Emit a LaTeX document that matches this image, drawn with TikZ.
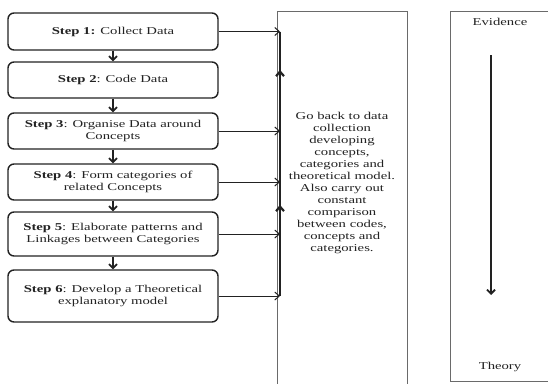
\documentclass[tikz,border=0pt]{standalone}
\usepackage{fontspec}
\setmainfont{Liberation Serif}[FakeStretch=1.4]
\usetikzlibrary{arrows.meta}
\definecolor{inkgray}{HTML}{222222}
\definecolor{framegray}{HTML}{6A6A6A}
\tikzset{
  stepbox/.style={draw=inkgray, line width=1.4pt, rounded corners=6pt, minimum width=210pt, align=center, text=inkgray, inner sep=2pt},
  flowarrow/.style={draw=inkgray, line width=1.8pt, -{Straight Barb[length=4pt, width=8pt]}},
  feedarrow/.style={draw=inkgray, line width=1pt, -{Straight Barb[length=4.5pt, width=8pt]}},
  framebox/.style={draw=framegray, line width=0.9pt}
}
\begin{document}
\begin{tikzpicture}[x=1pt, y=-1pt, font=\fontsize{10.5}{12}\selectfont]
    \useasboundingbox (0, 0) rectangle (548, 383);
    \clip (0, 0) rectangle (548, 383);

    % Steps
    \node[stepbox, minimum height=37pt] (step1) at (113, 31.5) {\textbf{Step 1:} Collect Data};
    \node[stepbox, minimum height=36pt] (step2) at (113, 80) {\textbf{Step 2}: Code Data};
    \node[stepbox, minimum height=36pt] (step3) at (113, 131) {\textbf{Step 3}: Organise Data around\\Concepts};
    \node[stepbox, minimum height=36pt] (step4) at (113, 182) {\textbf{Step 4}: Form categories of\\related Concepts};
    \node[stepbox, minimum height=44pt] (step5) at (113, 234) {\textbf{Step 5}: Elaborate patterns and\\Linkages between Categories};
    \node[stepbox, minimum height=52pt] (step6) at (113, 296) {\textbf{Step 6}: Develop a Theoretical\\explanatory model};

    % Down arrows between the steps
    \foreach \a/\b in {step1/step2, step2/step3, step3/step4, step4/step5, step5/step6}
      \draw[flowarrow] (\a.south) -- (\b.north);

    % Feedback box
    \draw[framebox] (277, 11) rectangle (407, 400);
    \node[align=center, text=inkgray] (loopnote) at (342, 182.5) {Go back to data\\collection\\developing\\concepts,\\categories and\\theoretical model.\\Also carry out\\constant\\comparison\\between codes,\\concepts and\\categories.};

    % Return line
    \coordinate (bustop) at (280, 31.5);
    \coordinate (busbot) at (280, 296);
    \draw[inkgray, line width=2.4pt] (bustop) -- (busbot);
    \draw[feedarrow, line width=2.2pt] (280, 100) -- (280, 70);
    \draw[feedarrow, line width=2.2pt] (280, 240) -- (280, 205);
    \foreach \s in {step1, step3, step4, step5, step6}
      \draw[feedarrow] (\s.east) -- (\s.east -| bustop);

    % Evidence to theory
    \draw[framebox] (450, 11) rectangle (570, 381);
    \node[text=inkgray] (evidence) at (500, 22) {Evidence};
    \node[text=inkgray] (theory) at (500, 367) {Theory};
    \coordinate (downtop) at (491, 55);
    \coordinate (downbot) at (491, 295);
    \draw[flowarrow] (downtop) -- (downbot);
  \end{tikzpicture}
\end{document}
